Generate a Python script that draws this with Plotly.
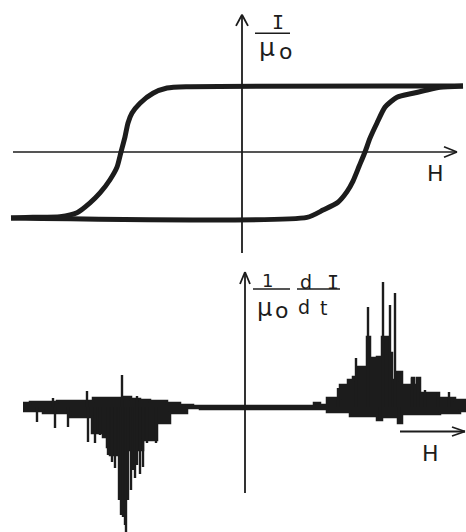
import plotly.graph_objects as go

# ---------------- data ----------------
# Hysteresis loop: field H (arb. units) vs I/mu0 (normalised)
desc_H = [2.21, -0.55, -0.75, -0.89, -1.02, -1.10, -1.14, -1.17, -1.21, -1.25,
          -1.32, -1.42, -1.52, -1.65, -1.82, -2.09, -2.31]
desc_M = [1.00, 0.99, 0.97, 0.89, 0.74, 0.59, 0.44, 0.23, 0.00, -0.23,
          -0.42, -0.62, -0.77, -0.92, -0.98, -0.99, -1.00]
asc_H = [-2.31, 0.65, 0.81, 0.96, 1.05, 1.11, 1.17, 1.23, 1.28, 1.35, 1.43,
         1.55, 1.71, 1.85, 1.98, 2.21]
asc_M = [-1.00, -0.99, -0.88, -0.76, -0.60, -0.44, -0.22, 0.00, 0.21, 0.44,
         0.68, 0.83, 0.89, 0.94, 0.98, 1.00]

# Barkhausen noise (1/mu0 dI/dt): dense body, upper and lower edges
body_up_H = [-2.22, -2.15, -1.88, -1.57, -1.52, -1.22, -1.14, -1.05, -0.95, -0.78,
             -0.65, -0.52, -0.05, 0.55, 0.69, 0.75, 0.82, 0.95, 1.03, 1.08,
             1.12, 1.22, 1.25, 1.32, 1.37, 1.43, 1.47, 1.52, 1.57, 1.67,
             1.69, 1.72, 1.75, 1.92, 1.94, 2.10, 2.21]
body_up_v = [0.04, 0.05, 0.06, 0.06, 0.09, 0.10, 0.08, 0.07, 0.06, 0.04,
             0.02, 0.01, 0.01, 0.01, 0.04, 0.02, 0.09, 0.22, 0.27, 0.30,
             0.40, 0.70, 0.49, 0.50, 0.70, 0.54, 0.27, 0.35, 0.22, 0.29,
             0.22, 0.29, 0.14, 0.14, 0.09, 0.07, 0.05]
body_lo_H = [-2.22, -2.02, -1.75, -1.53, -1.42, -1.38, -1.35, -1.25, -1.02, -0.88,
             -0.75, -0.58, -0.45, 0.55, 0.82, 1.05, 1.32, 1.37, 1.53, 1.57,
             1.95, 2.15, 2.21]
body_lo_v = [-0.04, -0.06, -0.10, -0.26, -0.30, -0.40, -0.48, -0.43, -0.33, -0.16,
             -0.06, -0.01, -0.02, -0.02, -0.05, -0.09, -0.13, -0.10, -0.16, -0.07,
             -0.06, -0.04, -0.03]

# individual Barkhausen jumps (spikes)
spike_H = [-2.08, -1.90, -1.77, -1.57, -1.50, -1.45, -1.37, -1.33, -1.30, -1.26,
           -1.24, -1.22, -1.20, -1.19, -1.17, -1.14, -1.12, -1.10, -1.08, -1.05,
           -1.02, -0.98, -0.89,
           -1.92, -1.58, -1.23, -1.08,
           0.93, 1.11, 1.23, 1.38, 1.45, 1.50, 1.67, 1.73, 1.80, 1.93, 2.04,
           1.35, 1.54]
spike_v = [-0.15, -0.21, -0.20, -0.35, -0.36, -0.28, -0.48, -0.55, -0.61, -0.93,
           -1.08, -1.10, -1.18, -1.25, -0.93, -0.83, -0.63, -0.71, -0.58, -0.67,
           -0.60, -0.36, -0.36,
           0.09, 0.16, 0.32, 0.11,
           0.19, 0.49, 1.00, 1.25, 1.02, 1.14, 0.29, 0.29, 0.17, 0.15, 0.15,
           -0.14, -0.17]

# ---------------- figure ----------------
INK = "#1c1c1c"
SANS = "DejaVu Sans"
MONO = "DejaVu Sans Mono"

fig = go.Figure()

# hysteresis loop
for hx, my in ((desc_H, desc_M), (asc_H, asc_M)):
    fig.add_trace(go.Scatter(x=hx, y=my, mode="lines", xaxis="x", yaxis="y",
                             line=dict(color=INK, width=5, shape="spline", smoothing=0.6),
                             hoverinfo="skip"))

# noise body (filled between lower and upper edges, stepped like a strip chart)
fig.add_trace(go.Scatter(x=body_lo_H, y=body_lo_v, mode="lines", xaxis="x2", yaxis="y2",
                         line=dict(color=INK, width=2.5, shape="hv"), hoverinfo="skip"))
fig.add_trace(go.Scatter(x=body_up_H, y=body_up_v, mode="lines", xaxis="x2", yaxis="y2",
                         fill="tonexty", fillcolor=INK,
                         line=dict(color=INK, width=2.5, shape="hv"), hoverinfo="skip"))
sx, sy = [], []
for h, v in zip(spike_H, spike_v):
    sx += [h, h, None]
    sy += [0, v, None]
fig.add_trace(go.Scatter(x=sx, y=sy, mode="lines", xaxis="x2", yaxis="y2",
                         line=dict(color=INK, width=2.4), hoverinfo="skip"))

shapes = []
def seg(x0, y0, x1, y1, xr, yr, w=1.6):
    shapes.append(dict(type="line", x0=x0, y0=y0, x1=x1, y1=y1, xref=xr, yref=yr,
                       line=dict(color=INK, width=w)))

# top axes
seg(-2.29, 0, 2.15, 0, "x", "y")
seg(2.15, 0, 2.02, 0.08, "x", "y")
seg(2.15, 0, 2.02, -0.08, "x", "y")
seg(0, -1.53, 0, 2.08, "x", "y", 1.8)
seg(0, 2.08, -0.06, 1.91, "x", "y", 1.8)
seg(0, 2.08, 0.06, 1.91, "x", "y", 1.8)
# fraction bar I / mu0
seg(0.13, 1.80, 0.48, 1.80, "x", "y", 1.6)

# bottom axes
seg(0, -0.86, 0, 1.35, "x2", "y2", 1.8)
seg(0, 1.35, -0.05, 1.23, "x2", "y2", 1.8)
seg(0, 1.35, 0.05, 1.23, "x2", "y2", 1.8)
seg(1.55, -0.245, 2.20, -0.245, "x2", "y2", 1.8)
seg(2.20, -0.245, 2.07, -0.20, "x2", "y2", 1.8)
seg(2.20, -0.245, 2.07, -0.29, "x2", "y2", 1.8)
# fraction bars
seg(0.08, 1.18, 0.45, 1.18, "x2", "y2", 1.6)
seg(0.52, 1.18, 0.95, 1.18, "x2", "y2", 1.6)

def txt(x, y, t, xr, yr, size=19, fam=SANS):
    return dict(x=x, y=y, text=t, xref=xr, yref=yr, showarrow=False,
                font=dict(family=fam, size=size, color=INK),
                xanchor="center", yanchor="middle")

annotations = [
    # top:  I / mu_o
    txt(0.36, 1.97, "I", "x", "y", 20, MONO),
    txt(0.25, 1.59, "μ", "x", "y", 25),
    txt(0.43, 1.53, "o", "x", "y", 22),
    txt(1.93, -0.32, "H", "x", "y", 22),
    # bottom: 1/mu_o  dI/dt
    txt(0.22, 1.265, "1", "x2", "y2", 18),
    txt(0.19, 0.995, "μ", "x2", "y2", 24),
    txt(0.36, 0.965, "o", "x2", "y2", 22),
    txt(0.61, 1.25, "d", "x2", "y2", 19),
    txt(0.88, 1.25, "I", "x2", "y2", 20, MONO),
    txt(0.59, 1.00, "d", "x2", "y2", 19),
    txt(0.78, 0.99, "t", "x2", "y2", 19),
    txt(1.85, -0.46, "H", "x2", "y2", 22),
]

split = 1 - 260 / 532
fig.update_layout(
    width=466, height=532, autosize=False,
    margin=dict(l=0, r=0, t=0, b=0),
    paper_bgcolor="white", plot_bgcolor="white",
    showlegend=False,
    xaxis=dict(domain=[0, 1], range=[-2.42, 2.24], visible=False, anchor="y"),
    yaxis=dict(domain=[split, 1], range=[-1.636, 2.303], visible=False, anchor="x"),
    xaxis2=dict(domain=[0, 1], range=[-2.45, 2.21], visible=False, anchor="y2"),
    yaxis2=dict(domain=[0, split], range=[-1.25, 1.47], visible=False, anchor="x2"),
    shapes=shapes, annotations=annotations,
)

fig.write_html("out.html", config={"displayModeBar": False},
               post_script="document.body.style.margin='0';")
